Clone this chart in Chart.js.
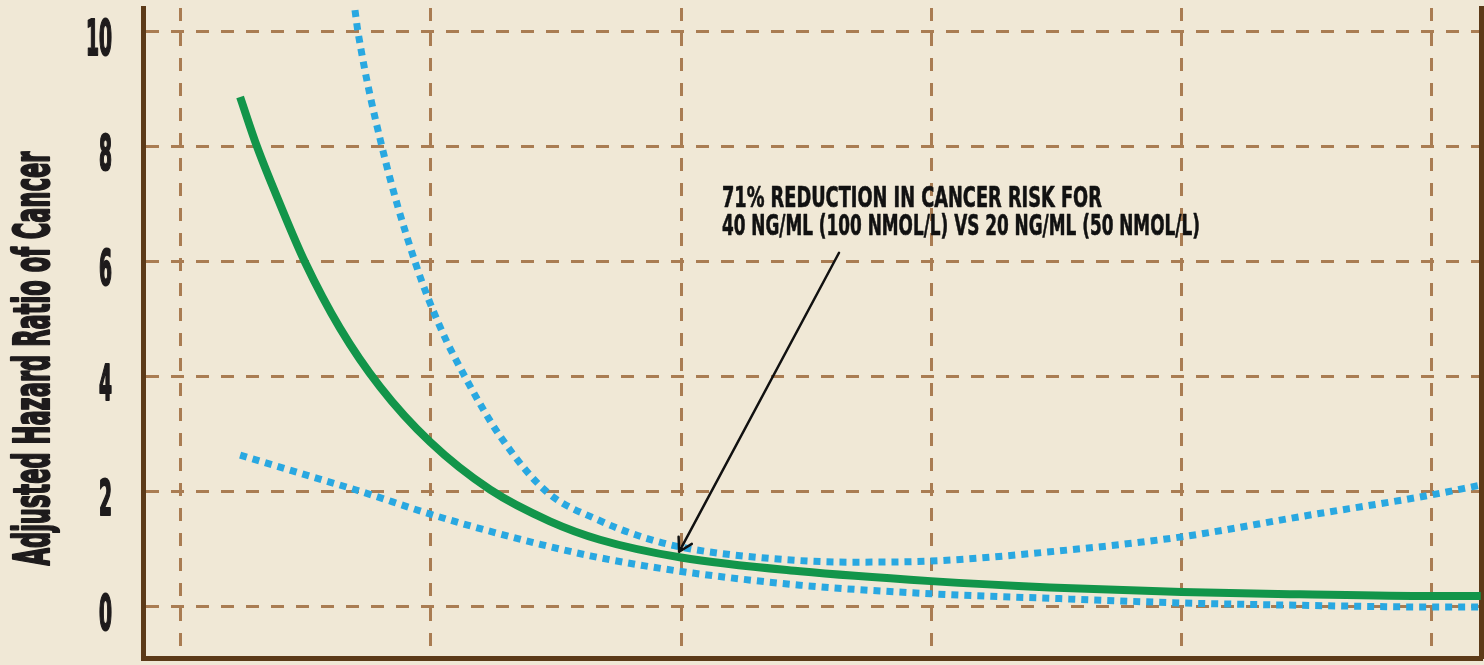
<!DOCTYPE html>
<html>
<head>
<meta charset="utf-8">
<script src="https://cdn.jsdelivr.net/npm/chart.js@4.4.1/dist/chart.umd.min.js"></script>
<style>
  html, body { margin: 0; padding: 0; background: #f0e8d6; }
  #wrap { width: 1484px; height: 665px; position: relative; }
</style>
</head>
<body>
<div id="wrap"><canvas id="c"></canvas></div>
<script>
// ---- data ----
const xTicks = [20, 30, 40, 50, 60, 70];
const yTicks = [0, 2, 4, 6, 8, 10];
const yTickLabels = ['0', '2', '4', '6', '8', '10'];
const yTitle = 'Adjusted Hazard Ratio of Cancer';
const noteLines = ['71% REDUCTION IN CANCER RISK FOR', '40 NG/ML (100 NMOL/L) VS 20 NG/ML (50 NMOL/L)'];

// hazard ratio (solid green)
const hrX = [22.38, 23.06, 23.98, 24.97, 26.37, 27.97, 29.97, 32.37, 34.76, 36.76, 40.0, 44.75, 49.98, 54.73, 60.0, 64.72, 69.99, 71.95];
const hrY = [8.87, 8.00, 7.00, 6.00, 4.85, 3.83, 2.87, 2.04, 1.49, 1.17, 0.86, 0.62, 0.45, 0.34, 0.26, 0.22, 0.19, 0.19];
// upper confidence limit (blue dotted)
const upX = [26.97, 27.09, 28.05, 29.37, 30.37, 31.37, 32.77, 34.64, 36.76, 38.36, 40.0, 43.15, 46.75, 49.98, 54.73, 60.0, 64.72, 69.99, 71.95];
const upY = [10.38, 10.00, 8.00, 6.00, 4.87, 4.00, 2.97, 2.00, 1.50, 1.23, 1.04, 0.86, 0.78, 0.80, 0.96, 1.22, 1.57, 1.95, 2.12];
// lower confidence limit (blue dotted)
const loX = [22.38, 24.9, 27.05, 30.09, 32.25, 34.37, 36.37, 38.49, 40.47, 44.75, 49.98, 55.5, 60.0, 64.7, 69.99, 72.0];
const loY = [2.64, 2.31, 2.03, 1.60, 1.33, 1.09, 0.89, 0.72, 0.59, 0.38, 0.23, 0.14, 0.07, 0.03, 0.00, 0.00];

// annotation anchor points (data coords)
const arrowTip = { x: 39.92, y: 0.96 };
const arrowTail = { x: 46.31, y: 6.16 };
const noteAnchor = { x: 41.63, y: 6.96 };

const pts = (xs, ys) => xs.map((x, i) => ({ x, y: ys[i] }));

const BG = '#f0e8d6';
const AXIS = '#5c3a18';
const GRID = '#a97c52';
const GREEN = '#12954a';
const BLUE = '#29a8e1';
const INK = '#1e1b1c';
const NARROW = "'Liberation Sans Narrow', 'DejaVu Sans Condensed', 'DejaVu Sans', sans-serif";

const bgPlugin = {
  id: 'bg',
  beforeDraw(chart) {
    const ctx = chart.ctx;
    ctx.save();
    ctx.fillStyle = BG;
    ctx.fillRect(0, 0, chart.width, chart.height);
    ctx.restore();
  }
};

function boldText(ctx, s, x, y, w, sw) {
  ctx.fillText(s, x, y, w);
  if (sw) { ctx.lineWidth = sw; ctx.strokeText(s, x, y, w); }
}

const textPlugin = {
  id: 'texts',
  afterDraw(chart) {
    const ctx = chart.ctx;
    const xs = chart.scales.x, ys = chart.scales.y;
    const area = chart.chartArea;
    ctx.save();
    ctx.fillStyle = INK;
    ctx.strokeStyle = INK;
    ctx.lineJoin = 'round';
    // y tick labels
    ctx.font = 'bold 49px ' + NARROW;
    ctx.textAlign = 'right';
    ctx.textBaseline = 'alphabetic';
    yTicks.forEach((v, i) => {
      const s = yTickLabels[i];
      boldText(ctx, s, area.left - 31, ys.getPixelForValue(v) + 23, s.length * 13, 2.2);
    });
    // y title
    ctx.save();
    ctx.translate(49, 358.5);
    ctx.rotate(-Math.PI / 2);
    ctx.font = 'bold 50px ' + NARROW;
    ctx.textAlign = 'center';
    boldText(ctx, yTitle, 0, 0, 414, 2.2);
    ctx.restore();
    // annotation text
    ctx.font = 'bold 28px ' + NARROW;
    ctx.textAlign = 'left';
    const nx = xs.getPixelForValue(noteAnchor.x);
    const ny = ys.getPixelForValue(noteAnchor.y);
    ctx.fillStyle = '#111';
    ctx.strokeStyle = '#111';
    boldText(ctx, noteLines[0], nx, ny, 380, 0.6);
    boldText(ctx, noteLines[1], nx, ny + 28, 478, 0.6);
    // arrow
    const tx = xs.getPixelForValue(arrowTip.x), ty = ys.getPixelForValue(arrowTip.y);
    const sx = xs.getPixelForValue(arrowTail.x), sy = ys.getPixelForValue(arrowTail.y);
    ctx.lineWidth = 2.5;
    ctx.lineCap = 'round';
    ctx.beginPath();
    ctx.moveTo(sx, sy);
    ctx.lineTo(tx, ty);
    const ang = Math.atan2(ty - sy, tx - sx);
    const L = 15, spread = Math.PI / 6;
    ctx.moveTo(tx - L * Math.cos(ang - spread), ty - L * Math.sin(ang - spread));
    ctx.lineTo(tx, ty);
    ctx.lineTo(tx - L * Math.cos(ang + spread), ty - L * Math.sin(ang + spread));
    ctx.stroke();
    ctx.restore();
  }
};

const setTicks = (vals) => (scale) => { scale.ticks = vals.map(v => ({ value: v })); };

new Chart(document.getElementById('c'), {
  type: 'line',
  data: {
    datasets: [
      {
        label: 'Upper limit', data: pts(upX, upY),
        borderColor: BLUE, borderWidth: 7, borderDash: [7, 6], borderCapStyle: 'butt',
        pointRadius: 0, cubicInterpolationMode: 'monotone', fill: false
      },
      {
        label: 'Lower limit', data: pts(loX, loY),
        borderColor: BLUE, borderWidth: 7, borderDash: [7, 6], borderCapStyle: 'butt',
        pointRadius: 0, cubicInterpolationMode: 'monotone', fill: false
      },
      {
        label: 'Hazard ratio', data: pts(hrX, hrY),
        borderColor: GREEN, borderWidth: 8, borderCapStyle: 'butt',
        pointRadius: 0, cubicInterpolationMode: 'monotone', fill: false
      }
    ]
  },
  options: {
    responsive: true,
    maintainAspectRatio: false,
    animation: false,
    devicePixelRatio: 1,
    layout: { padding: { left: 143, right: 3, top: 8, bottom: 7 } },
    plugins: { legend: { display: false }, tooltip: { enabled: false } },
    scales: {
      x: {
        type: 'linear', min: 18.5, max: 71.96,
        afterBuildTicks: setTicks(xTicks),
        afterFit: (s) => { s.height = 0; },
        ticks: { display: false },
        grid: { color: GRID, lineWidth: 3, drawTicks: false },
        border: { color: AXIS, width: 5, dash: [13, 12] }
      },
      y: {
        type: 'linear', min: -0.887, max: 10.417,
        afterBuildTicks: setTicks(yTicks),
        afterFit: (s) => { s.width = 0; },
        ticks: { display: false },
        grid: { color: GRID, lineWidth: 3, drawTicks: false },
        border: { color: AXIS, width: 5, dash: [13, 12] }
      },
      yR: {
        type: 'linear', position: 'right', min: -0.887, max: 10.417,
        afterFit: (s) => { s.width = 0; },
        ticks: { display: false },
        grid: { display: false, drawTicks: false },
        border: { color: AXIS, width: 5 }
      }
    }
  },
  plugins: [bgPlugin, textPlugin]
});
</script>
</body>
</html>
